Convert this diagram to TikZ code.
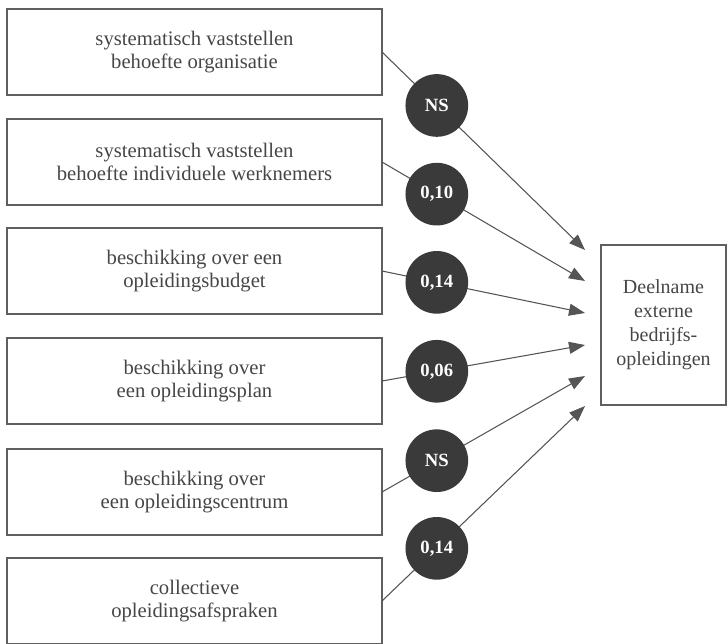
\documentclass[tikz,border=0pt]{standalone}
\usepackage{fontspec}
\setmainfont{Liberation Serif}
\usetikzlibrary{arrows.meta}
\definecolor{boxline}{RGB}{95,95,95}
\definecolor{txt}{RGB}{70,70,70}
\definecolor{circfill}{RGB}{58,58,58}
\definecolor{conn}{RGB}{85,85,85}
\begin{document}
\begin{tikzpicture}[x=0.75pt,y=-0.75pt,
  srcbox/.style={draw=boxline,line width=0.8pt,minimum width=281.25pt,minimum height=64.5pt,
    inner sep=0pt,outer sep=0pt,align=center,text=txt,font=\fontsize{15.5}{17.5}\selectfont},
  tgtbox/.style={draw=boxline,line width=0.8pt,minimum width=93.75pt,minimum height=120pt,
    inner sep=0pt,outer sep=0pt,align=center,text=txt,font=\fontsize{15}{18}\selectfont},
  coef/.style={circle,fill=circfill,minimum size=47pt,inner sep=0pt,text=white,
    font=\fontsize{14}{16}\selectfont\bfseries},
  conn/.style={draw=conn,line width=0.8pt,-{Triangle[length=12pt,width=9pt]}}]
\useasboundingbox (0,0) rectangle (728,643);
\node[srcbox] (b1) at (194.5,52) {systematisch vaststellen\\behoefte organisatie};
\node[srcbox] (b2) at (194.5,162) {systematisch vaststellen\\behoefte individuele werknemers};
\node[srcbox] (b3) at (194.5,271) {beschikking over een\\opleidingsbudget};
\node[srcbox] (b4) at (194.5,381) {beschikking over\\een opleidingsplan};
\node[srcbox] (b5) at (194.5,492) {beschikking over\\een opleidingscentrum};
\node[srcbox] (b6) at (194.5,601) {collectieve\\opleidingsafspraken};
\node[tgtbox] (tg) at (663.5,325) {Deelname\\externe\\bedrijfs-\\opleidingen};
\coordinate (t1) at (585,250);
\coordinate (t2) at (585,281);
\coordinate (t3) at (585,313);
\coordinate (t4) at (585,345);
\coordinate (t5) at (585,376);
\coordinate (t6) at (585,406);
\draw[conn] (b1.east) -- node[coef,pos=0.27] (c1) {NS} (t1);
\draw[conn] (b2.east) -- node[coef,pos=0.27] (c2) {0,10} (t2);
\draw[conn] (b3.east) -- node[coef,pos=0.27] (c3) {0,14} (t3);
\draw[conn] (b4.east) -- node[coef,pos=0.27] (c4) {0,06} (t4);
\draw[conn] (b5.east) -- node[coef,pos=0.27] (c5) {NS} (t5);
\draw[conn] (b6.east) -- node[coef,pos=0.27] (c6) {0,14} (t6);
\end{tikzpicture}
\end{document}
